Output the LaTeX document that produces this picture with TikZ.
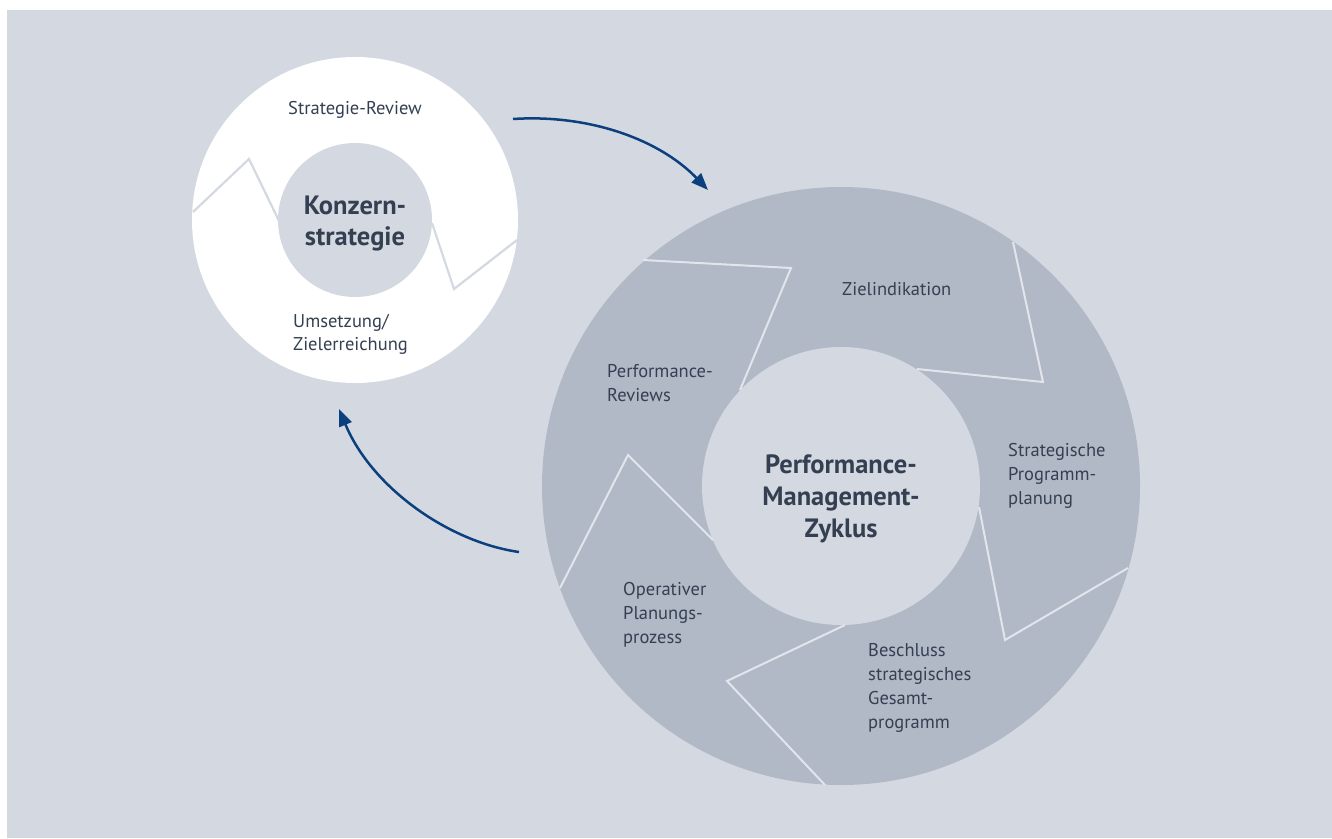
\documentclass[tikz,border=0pt]{standalone}
\usepackage{fontspec}
\setmainfont{PT Sans}
\usetikzlibrary{arrows.meta}
\definecolor{bgc}{HTML}{D4D9E1}
\definecolor{ringc}{HTML}{B1B9C6}
\definecolor{sepc}{HTML}{E2E6EC}
\definecolor{txtc}{HTML}{344052}
\definecolor{arrc}{HTML}{0B3F7E}
\tikzset{
  smalllbl/.style={inner sep=0pt, text=txtc, font=\fontsize{18.5}{24}\selectfont},
  biglbl/.style={inner sep=0pt, text=txtc, font=\bfseries\fontsize{26.5}{32}\selectfont},
  sepline/.style={draw=sepc, line width=2pt, line join=miter},
  zigline/.style={draw=bgc, line width=2.2pt, line join=miter},
  flowarrow/.style={draw=arrc, line width=2.5pt, -{Triangle[length=17pt,width=13pt]}},
}
\begin{document}
\begin{tikzpicture}[x=1pt,y=-1pt]
\useasboundingbox (0,0) rectangle (1332,838);
\fill[white] (0,0) rectangle (1332,838);
\fill[bgc] (7,10) rectangle (1332,838);

% left circle
\node[circle, fill=white, minimum size=326pt, inner sep=0pt] (kouter) at (355,220) {};
\node[circle, fill=bgc, minimum size=154pt, inner sep=0pt] (kinner) at (355,220) {};
\draw[zigline] (193,212) -- (249,159) -- (280,223);
\draw[zigline] (432,223) -- (454,289) -- (517,240);
\node[biglbl, anchor=base] (ktxt) at (355,214) {\fontsize{26.5}{31}\selectfont\begin{tabular}[t]{@{}c@{}}Konzern-\\strategie\end{tabular}};
\node[smalllbl, anchor=base] (srev) at (355,114) {Strategie-Review};
\node[smalllbl, anchor=base west] (umset) at (293,327) {\fontsize{18.5}{23.5}\selectfont\begin{tabular}[t]{@{}l@{}}Umsetzung/\\Zielerreichung\end{tabular}};

% right circle
\node[circle, fill=ringc, minimum size=598pt, inner sep=0pt] (pouter) at (841,486) {};
\node[circle, fill=bgc, minimum size=278pt, inner sep=0pt] (pinner) at (841,486) {};
\draw[sepline] (643,260) -- (791,268) -- (740,390);
\draw[sepline] (1013,242) -- (1043,382) -- (917,369);
\draw[sepline] (979,507) -- (1005,640) -- (1128,568);
\draw[sepline] (845,625) -- (727,681) -- (825,785);
\draw[sepline] (560,588) -- (628,455) -- (713,540);

\node[biglbl, anchor=base] (ptxt) at (841,473) {\begin{tabular}[t]{@{}c@{}}Performance-\\Management-\\Zyklus\end{tabular}};
\node[smalllbl, anchor=base west] (zielind) at (842,295) {Zielindikation};
\node[smalllbl, anchor=base west] (strat) at (1008,456) {\begin{tabular}[t]{@{}l@{}}Strategische\\Programm-\\planung\end{tabular}};
\node[smalllbl, anchor=base west] (besch) at (868,656) {\begin{tabular}[t]{@{}l@{}}Beschluss\\strategisches\\Gesamt-\\programm\end{tabular}};
\node[smalllbl, anchor=base west] (oper) at (623,595) {\begin{tabular}[t]{@{}l@{}}Operativer\\Planungs-\\prozess\end{tabular}};
\node[smalllbl, anchor=base west] (perfrev) at (607,377) {\begin{tabular}[t]{@{}l@{}}Performance-\\Reviews\end{tabular}};

% arrows
\coordinate (a1s) at (513,119);
\coordinate (a1e) at (708,190);
\coordinate (a2s) at (519,552);
\coordinate (a2e) at (339,409);
\draw[flowarrow] (a1s) .. controls (590,114) and (660,140) .. (a1e);
\draw[flowarrow] (a2s) .. controls (449,542) and (372,488) .. (a2e);
\end{tikzpicture}
\end{document}
